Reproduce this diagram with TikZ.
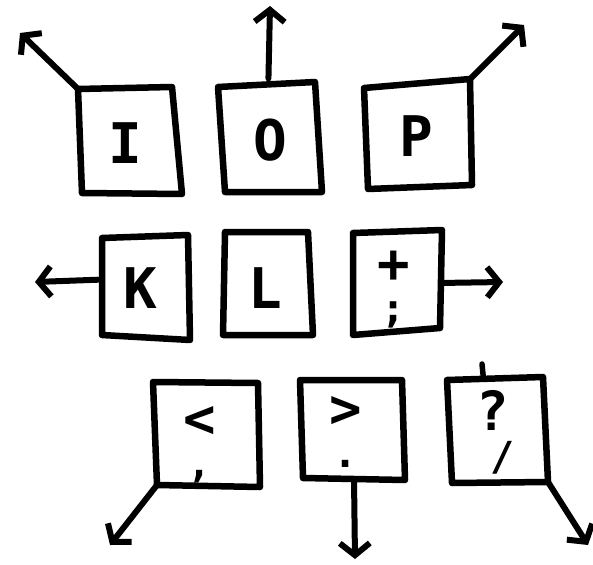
\documentclass[tikz,border=0pt]{standalone}
\usepackage{fontspec}
\newfontfamily\keyfont{DejaVu Sans Mono}
\usetikzlibrary{arrows.meta,calc}

\tikzset{
  keycap/.style={line width=6.5pt, line join=round, line cap=round},
  arr/.style={line width=6pt, line cap=round, line join=round,
    -{Straight Barb[length=12pt,width=30pt]}},
  glyph/.style={font=\keyfont\bfseries\fontsize{56}{56}\selectfont, inner sep=0pt},
  % two symbols stacked on one key
  pair glyph/.style={font=\keyfont\bfseries\fontsize{54}{40}\selectfont,
    inner sep=0pt, align=center},
}
% the lower, smaller symbol of a stacked pair
\newcommand\lowsym[1]{{\fontsize{40}{40}\selectfont #1}}

% a slightly crooked key outline with named corners
\newcommand\keybox[5]{%
  \coordinate (#1-tl) at #2;
  \coordinate (#1-tr) at #3;
  \coordinate (#1-br) at #4;
  \coordinate (#1-bl) at #5;
  \draw[keycap] (#1-tl) -- (#1-tr) -- (#1-br) -- (#1-bl) -- cycle;
}

\begin{document}
\begin{tikzpicture}[x=1pt, y=-1pt]
  \useasboundingbox (0,0) rectangle (593,564);

  % top row
  \keybox{I}{(78,89)}{(172,87)}{(182,194)}{(82,193)}
  \keybox{O}{(218,87)}{(315,82)}{(322,192)}{(225,192)}
  \keybox{P}{(364,88)}{(470,79)}{(472,185)}{(368,189)}
  \node[glyph] (I) at (125,143) {I};
  \node[glyph] (O) at (270,140) {O};
  \node[glyph] (P) at (416,136) {P};

  % middle row
  \keybox{K}{(102,238)}{(188,235)}{(190,340)}{(102,335)}
  \keybox{L}{(225,232)}{(308,232)}{(313,335)}{(223,335)}
  \keybox{S}{(353,233)}{(442,230)}{(440,328)}{(353,335)}
  \node[glyph] (K) at (140,288) {K};
  \node[glyph] (L) at (265,288) {L};
  \node[pair glyph] (S) at (394,290) {+\\\lowsym{;}};

  % bottom row
  \keybox{C}{(153,382)}{(258,383)}{(260,487)}{(157,485)}
  \keybox{D}{(300,380)}{(402,380)}{(405,480)}{(303,478)}
  \keybox{Q}{(447,380)}{(543,377)}{(548,482)}{(452,483)}
  \node[pair glyph] (C) at (200,445) {<\\\lowsym{,}};
  \node[pair glyph] (D) at (346,432) {>\\\lowsym{.}};
  \node[pair glyph, align=left] (Q) at (496,432) {?\\\hspace*{14pt}\lowsym{/}};

  % small stroke on top of the slash key
  \coordinate (Q-tick) at (482,364);
  \draw[keycap, line width=5.5pt] (Q-tick) -- ($(Q-tl)!0.38!(Q-tr)$);

  % arrow ends
  \coordinate (I-out) at (20,33);
  \coordinate (O-out) at (270,6);
  \coordinate (P-out) at (524,25);
  \coordinate (K-out) at (35,282);
  \coordinate (S-out) at (503,282);
  \coordinate (C-out) at (110,545);
  \coordinate (D-out) at (355,559);
  \coordinate (Q-out) at (588,545);

  % arrows leaving the keys
  \draw[arr] (I-tl) -- (I-out);
  \draw[arr] ($(O-tl)!0.52!(O-tr)+(0,-6)$) -- (O-out);
  \draw[arr] (P-tr) -- (P-out);
  \draw[arr] ($(K-tl)!0.43!(K-bl)+(-4,0)$) -- (K-out);
  \draw[arr] ($(S-tr)!0.54!(S-br)+(3,0)$) -- (S-out);
  \draw[arr] (C-bl) -- (C-out);
  \draw[arr] ($(D-bl)!0.5!(D-br)$) -- (D-out);
  \draw[arr] (Q-br) -- (Q-out);
\end{tikzpicture}
\end{document}
